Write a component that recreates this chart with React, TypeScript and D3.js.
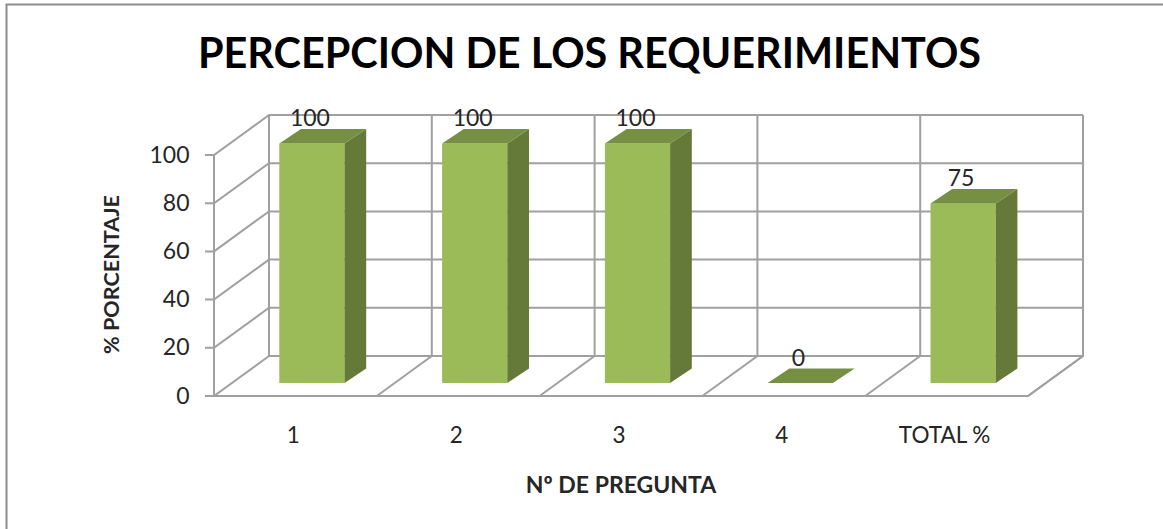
import React from "react";
import * as d3 from "d3";

const categories = ["1", "2", "3", "4", "TOTAL %"];
const values = [100, 100, 100, 0, 75];
const yTicks = [0, 20, 40, 60, 80, 100];
const titleText = "PERCEPCION DE LOS REQUERIMIENTOS";
const yTitle = "% PORCENTAJE";
const xTitle = "Nº DE PREGUNTA";

const W = 1163, H = 529;
const FONT = "Lato, 'Open Sans', sans-serif";
const GRID = "#a0a0a0";
const TXT = "#262626";
const wallDx = 55, wallDy = -40;
const barDx = 21.7, barDy = -14.5;

const x = d3.scaleBand<string>().domain(categories).range([214, 1028]).paddingInner(0).paddingOuter(0);
const y = d3.scaleLinear().domain([0, 100]).range([396, 155]);
const barH = d3.scaleLinear().domain([0, 100]).range([383, 143.5]);
const barInset = 65.3;
const barW = 65.2;

export default function App() {
  const step = x.step();
  const line = d3.line();
  return (
    <svg width={W} height={H} viewBox={`0 0 ${W} ${H}`}
      style={{ position: "absolute", left: 0, top: 0, background: "#fff", fontFamily: FONT }}>
      <path d={`M6.5 ${H} V4.5 H${W}`} fill="none" stroke="#8c8c8c" strokeWidth={2} />

      <g fill="none" stroke={GRID} strokeWidth={2}>
        {yTicks.map(t => (
          <path key={t} d={line([
            [205, y(t)], [214, y(t)], [214 + wallDx, y(t) + wallDy],
            [1028 + wallDx, y(t) + wallDy],
          ]) || ""} />
        ))}
        <path d={line([[214, y(0)], [214, y(100)]]) || ""} />
        <path d={line([[214, y(0)], [1028, y(0)], [1028 + wallDx, y(0) + wallDy]]) || ""} />
        {categories.map(c => {
          const xb = (x(c) as number) + step;
          return <path key={"w" + c} d={line([
            [xb, y(0)], [xb + wallDx, y(0) + wallDy], [xb + wallDx, y(100) + wallDy],
          ]) || ""} />;
        })}
        <path d={line([[214 + wallDx, y(0) + wallDy], [214 + wallDx, y(100) + wallDy]]) || ""} />
      </g>

      {categories.map((c, i) => {
        const x0 = (x(c) as number) + barInset;
        const x1 = x0 + barW;
        const top = barH(values[i]);
        const bot = barH(0);
        return (
          <g key={"b" + c}>
            {values[i] > 0 && <rect x={x0} y={top} width={barW} height={bot - top} fill="#9bbb59" />}
            {values[i] > 0 && <polygon fill="#657a39"
              points={`${x1},${top} ${x1 + barDx},${top + barDy} ${x1 + barDx},${bot + barDy} ${x1},${bot}`} />}
            <polygon fill="#778f43"
              points={`${x0},${top} ${x1},${top} ${x1 + barDx},${top + barDy} ${x0 + barDx},${top + barDy}`} />
            <text x={x0 + barW / 2 - 2} y={top + barDy - 3} textAnchor="middle" fontSize={23} fill={TXT}>{values[i]}</text>
          </g>
        );
      })}

      {yTicks.map(t => (
        <text key={"t" + t} x={189.5} y={y(t) + 7.5} textAnchor="end" fontSize={23} fill={TXT}>{t}</text>
      ))}
      {categories.map(c => (
        <text key={"x" + c} x={(x(c) as number) + step / 2 - 2} y={443} textAnchor="middle" fontSize={22.5} fill={TXT}>{c}</text>
      ))}

      <text x={589.5} y={68} textAnchor="middle" fontSize={41.4} fontWeight={700} fill="#000">{titleText}</text>
      <text x={621} y={493} textAnchor="middle" fontSize={23} fontWeight={700} fill={TXT}>{xTitle}</text>
      <text transform="translate(119,274.5) rotate(-90)" textAnchor="middle" fontSize={21.6} fontWeight={700} fill={TXT}>{yTitle}</text>
    </svg>
  );
}
